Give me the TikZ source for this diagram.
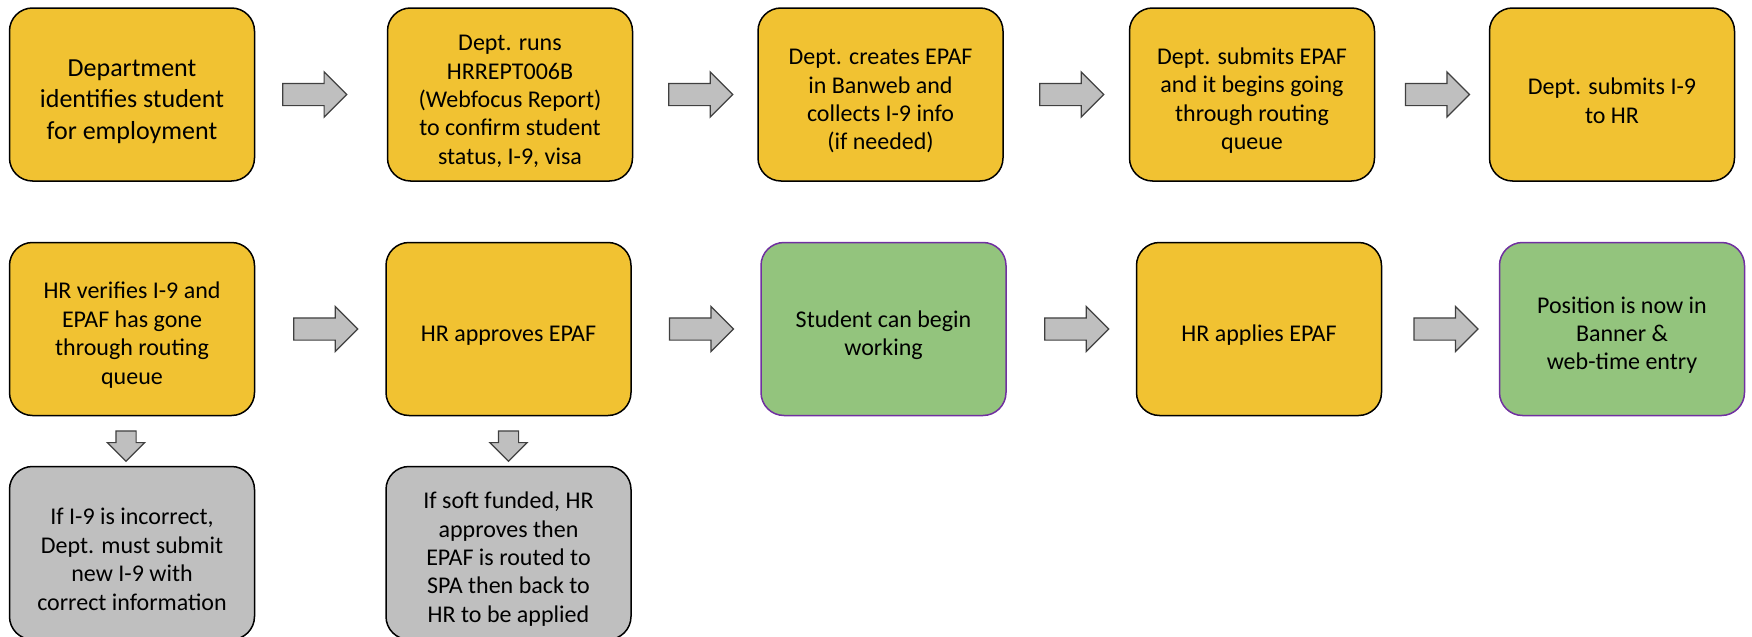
\documentclass[tikz,border=0pt]{standalone}
\usepackage{fontspec}
\setmainfont{Carlito}
\usetikzlibrary{shapes.arrows,calc}
\definecolor{boxyellow}{RGB}{241,194,50}
\definecolor{boxgreen}{RGB}{147,196,125}
\definecolor{boxgray}{RGB}{191,191,191}
\definecolor{greenline}{RGB}{112,48,160}
\definecolor{arrowline}{RGB}{64,64,64}
\newcommand\lift{\rule{0pt}{14.5pt}}

\begin{document}
\begin{tikzpicture}[x=0.5pt, y=-0.5pt,
    box/.style={draw, rectangle, rounded corners=11.5pt, line width=0.75pt, align=center, minimum width=122.5pt, minimum height=86.5pt, inner sep=2pt, font=\fontsize{12}{14.2}\selectfont},
    stepbox/.style={box, fill=boxyellow},
    done/.style={box, fill=boxgreen, draw=greenline},
    note/.style={box, fill=boxgray},
    fatarrow/.style={single arrow, draw=arrowline, fill=boxgray, line width=0.6pt, inner sep=5.25pt, single arrow head extend=5.75pt, minimum height=32pt},
    downarrow/.style={fatarrow, shape border rotate=270, inner sep=4.75pt, single arrow head extend=4.25pt, minimum height=15pt}]
    \useasboundingbox (0,0) rectangle (1752,637);

    % first row
    \node[stepbox, font=\fontsize{13}{15.8}\selectfont] (ident) at (132,94.5) {\rule{0pt}{15.5pt}Department\\identifies student\\for employment};
    \node[stepbox] (runs) at (510,94.5) {\lift Dept. runs\\HRREPT006B\\(Webfocus Report)\\to confirm student\\status, I-9, visa};
    \node[stepbox] (create) at (880.5,94.5) {\lift Dept. creates EPAF\\in Banweb and\\collects I-9 info\\(if needed)};
    \node[stepbox] (submit) at (1252,94.5) {\lift Dept. submits EPAF\\and it begins going\\through routing\\queue};
    \node[stepbox] (isub) at (1612,94.5) {\lift Dept. submits I-9\\to HR};

    % second row
    \node[stepbox] (verify) at (132,329) {\lift HR verifies I-9 and\\EPAF has gone\\through routing\\queue};
    \node[stepbox] (approve) at (508.5,329) {\lift HR approves EPAF};
    \node[done] (work) at (883.5,329) {\lift Student can begin\\working};
    \node[stepbox] (apply) at (1259,329) {\lift HR applies EPAF};
    \node[done] (banner) at (1622,329) {\lift Position is now in\\Banner \&\\web-time entry};

    % side notes
    \node[note] (wrong) at (132,553) {\lift If I-9 is incorrect,\\Dept. must submit\\new I-9 with\\correct information};
    \node[note] (soft) at (508.5,553) {\lift If soft funded, HR\\approves then\\EPAF is routed to\\SPA then back to\\HR to be applied};

    \node[fatarrow] (a1) at ($(ident.east)!0.41!(runs.west)$) {};
    \node[fatarrow] (a2) at ($(runs.east)!0.5!(create.west)$) {};
    \node[fatarrow] (a3) at ($(create.east)!0.5!(submit.west)$) {};
    \node[fatarrow] (a4) at ($(submit.east)!0.5!(isub.west)$) {};
    \node[fatarrow] (a5) at ($(verify.east)!0.5!(approve.west)$) {};
    \node[fatarrow] (a6) at ($(approve.east)!0.5!(work.west)$) {};
    \node[fatarrow] (a7) at ($(work.east)!0.5!(apply.west)$) {};
    \node[fatarrow] (a8) at ($(apply.east)!0.5!(banner.west)$) {};
    \node[downarrow, xshift=-3pt] (d1) at ($(verify.south)!0.5!(wrong.north)$) {};
    \node[downarrow] (d2) at ($(approve.south)!0.5!(soft.north)$) {};
\end{tikzpicture}
\end{document}
